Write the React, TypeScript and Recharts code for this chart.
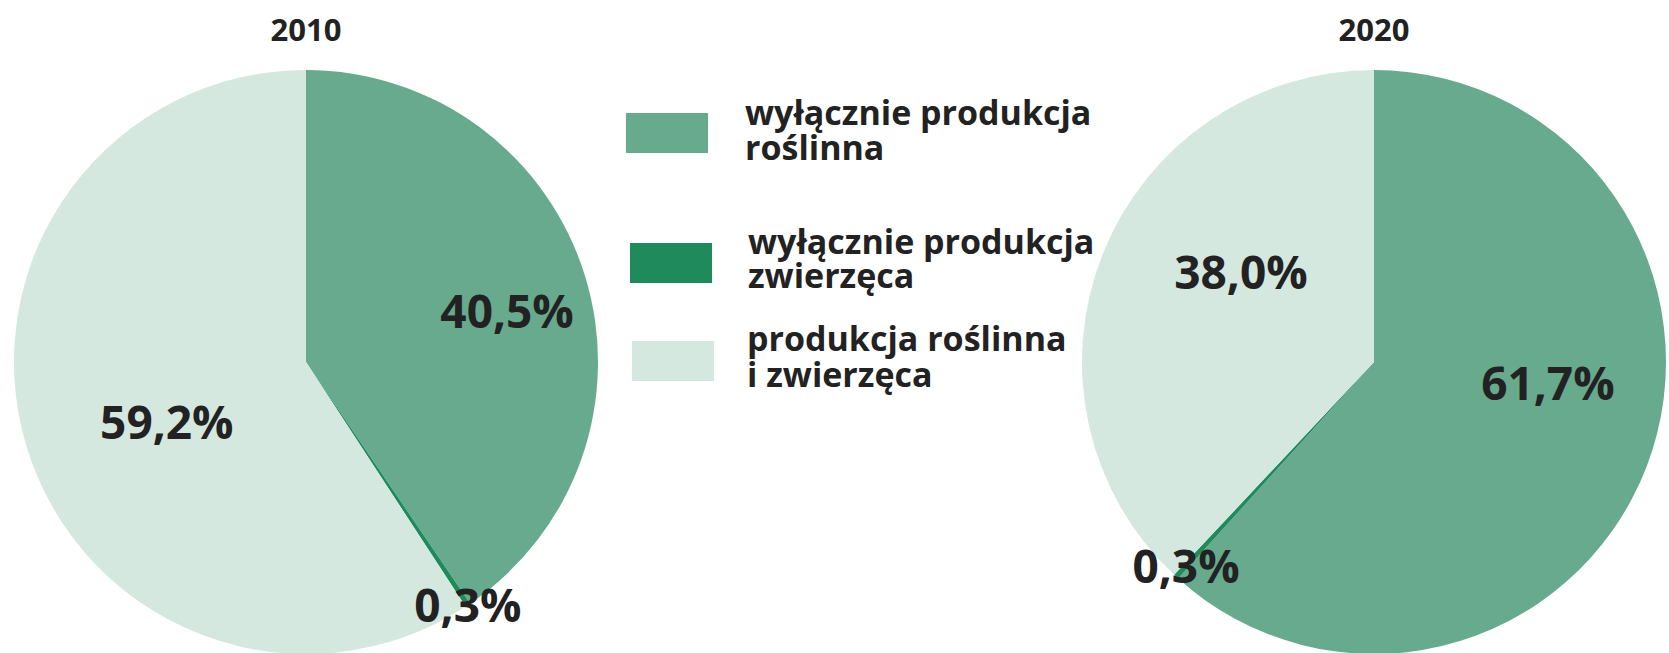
import React from 'react';
import { PieChart, Pie, Cell } from 'recharts';

// categories (legend order) and shares in %
const categories = [
  ['wyłącznie produkcja', 'roślinna'],
  ['wyłącznie produkcja', 'zwierzęca'],
  ['produkcja roślinna', 'i zwierzęca'],
];
const years = ['2010', '2020'];
const values2010 = [40.5, 0.3, 59.2];
const values2020 = [61.7, 0.3, 38.0];

const COLORS = ['#67aa8d', '#1f8a5c', '#d4e8df'];
const TEXT = '#222222';
const FONT = '"Open Sans", "Noto Sans", sans-serif';

// label placement tweaks: [radius fraction, angle nudge in degrees]
const labelPos2010 = [[0.71, -3], [1.0, 0], [0.52, 7]];
const labelPos2020 = [[0.6, 14], [0.95, 0], [0.55, -12.5]];

const W = 1669;
const H = 653;
const R = 292;
const CY = 362;
const CX = [306, 1374];

const RAD = Math.PI / 180;

const fmt = (v: number) => v.toFixed(1).replace('.', ',') + '%';

const makeLabel = (pos: number[][]) => (props: any) => {
  const { cx, cy, midAngle, outerRadius, index, value } = props;
  const [f, da] = pos[index];
  const a = (midAngle + da) * RAD;
  const r = outerRadius * f;
  const x = cx + r * Math.cos(a);
  const y = cy - r * Math.sin(a);
  return (
    <text
      x={x}
      y={y}
      dy="0.36em"
      textAnchor="middle"
      fill={TEXT}
      fontFamily={FONT}
      fontWeight={700}
      fontSize={46}
    >
      {fmt(value)}
    </text>
  );
};

const swatchTop = [113, 243, 341];
const swatchLeft = [626, 630, 632];
const textLeft = [745, 748, 747];
const baselines = [[125, 160], [254, 288], [351, 387]];

export default function App() {
  const d2010 = categories.map((c, i) => ({ name: c.join(' '), value: values2010[i] }));
  const d2020 = categories.map((c, i) => ({ name: c.join(' '), value: values2020[i] }));

  return (
    <div style={{ position: 'absolute', left: 0, top: 0, width: W, height: H, background: '#fff' }}>
      <PieChart width={W} height={H} margin={{ top: 0, right: 0, bottom: 0, left: 0 }}>
        <Pie
          data={d2010}
          dataKey="value"
          cx={CX[0]}
          cy={CY}
          outerRadius={R}
          startAngle={90}
          endAngle={-270}
          stroke="none"
          labelLine={false}
          label={makeLabel(labelPos2010)}
          isAnimationActive={false}
        >
          {d2010.map((_, i) => (
            <Cell key={i} fill={COLORS[i]} />
          ))}
        </Pie>
        <Pie
          data={d2020}
          dataKey="value"
          cx={CX[1]}
          cy={CY}
          outerRadius={R}
          startAngle={90}
          endAngle={-270}
          stroke="none"
          labelLine={false}
          label={makeLabel(labelPos2020)}
          isAnimationActive={false}
        >
          {d2020.map((_, i) => (
            <Cell key={i} fill={COLORS[i]} />
          ))}
        </Pie>
      </PieChart>
      <svg
        width={W}
        height={H}
        style={{ position: 'absolute', left: 0, top: 0, pointerEvents: 'none' }}
      >
        {years.map((y, i) => (
          <text
            key={y}
            x={CX[i]}
            y={41}
            textAnchor="middle"
            fill={TEXT}
            fontFamily={FONT}
            fontWeight={700}
            fontSize={31}
          >
            {y}
          </text>
        ))}
        {categories.map((lines, i) => (
          <g key={i}>
            <rect x={swatchLeft[i]} y={swatchTop[i]} width={82} height={40} fill={COLORS[i]} />
            {lines.map((t, j) => (
              <text
                key={j}
                x={textLeft[i]}
                y={baselines[i][j]}
                fill={TEXT}
                fontFamily={FONT}
                fontWeight={700}
                fontSize={34}
              >
                {t}
              </text>
            ))}
          </g>
        ))}
      </svg>
    </div>
  );
}
